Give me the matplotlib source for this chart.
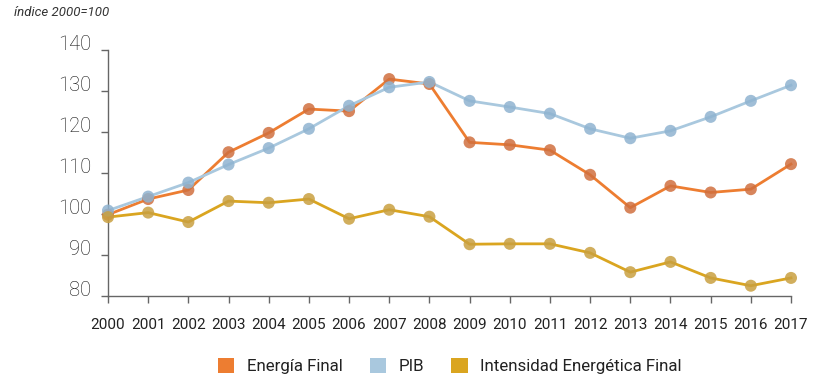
import matplotlib
matplotlib.use("Agg")
import matplotlib.pyplot as plt
from matplotlib.patches import Patch

plt.rcParams["font.family"] = ["Roboto", "DejaVu Sans"]

# data
years = list(range(2000, 2018))
energia_final = [99.8, 103.6, 105.8, 115.0, 119.7, 125.5, 125.0, 132.8, 131.6,
                 117.4, 116.8, 115.5, 109.5, 101.5, 106.8, 105.2, 106.0, 112.1]
pib = [100.8, 104.2, 107.6, 112.0, 116.0, 120.7, 126.3, 130.8, 132.1,
       127.5, 126.0, 124.4, 120.7, 118.4, 120.2, 123.6, 127.5, 131.3]
intensidad = [99.2, 100.3, 98.0, 103.1, 102.7, 103.6, 98.8, 101.0, 99.3,
              92.6, 92.7, 92.7, 90.5, 85.8, 88.3, 84.4, 82.5, 84.4]
y_ticks = [80, 90, 100, 110, 120, 130, 140]

series = [
    ("Energía Final", energia_final, "#ED7D31", "#D0703F"),
    ("PIB", pib, "#A9C8DE", "#8FB3D0"),
    ("Intensidad Energética Final", intensidad, "#DAA520", "#C9A040"),
]

fig = plt.figure(figsize=(8.2, 3.83), dpi=100)
ax = fig.add_axes([108 / 820, 1 - 296 / 383, (791 - 108) / 820, (296 - 49.5) / 383])

for name, vals, line_c, mark_c in series:
    ax.plot(years, vals, color=line_c, lw=2, zorder=2, clip_on=False)
    ax.scatter(years, vals, s=75, color=mark_c, alpha=0.85, edgecolors="none",
               zorder=3, clip_on=False)

ax.set_xlim(2000, 2017)
ax.set_ylim(80, 140)
ax.set_xticks(years)
ax.set_yticks(y_ticks)
ax.tick_params(axis="x", length=5, width=1, color="#666666", labelsize=11,
               pad=11, labelcolor="#222222")
ax.tick_params(axis="y", length=5, width=1, color="#666666", labelsize=14.5,
               pad=7, labelcolor="#111111")
for lab in ax.get_yticklabels():
    lab.set_verticalalignment("baseline")
    lab.set_fontweight("light")

for s in ["top", "right"]:
    ax.spines[s].set_visible(False)
for s in ["left", "bottom"]:
    ax.spines[s].set_color("#666666")
    ax.spines[s].set_linewidth(1)

fig.text(14 / 820, 1 - 13 / 383, "índice 2000=100", fontsize=9.5, style="italic",
         color="#333333", va="center", ha="left")

handles = [Patch(facecolor=c, edgecolor="none", label=n) for n, _, c, _ in series]
fig.legend(handles=handles, loc="center", bbox_to_anchor=(450 / 820, 1 - 366 / 383),
           ncol=3, frameon=False, fontsize=12.2, handlelength=0.95, handleheight=0.95,
           handletextpad=0.75, columnspacing=1.6, labelcolor="#222222")

fig.savefig("out.png", dpi=100)
